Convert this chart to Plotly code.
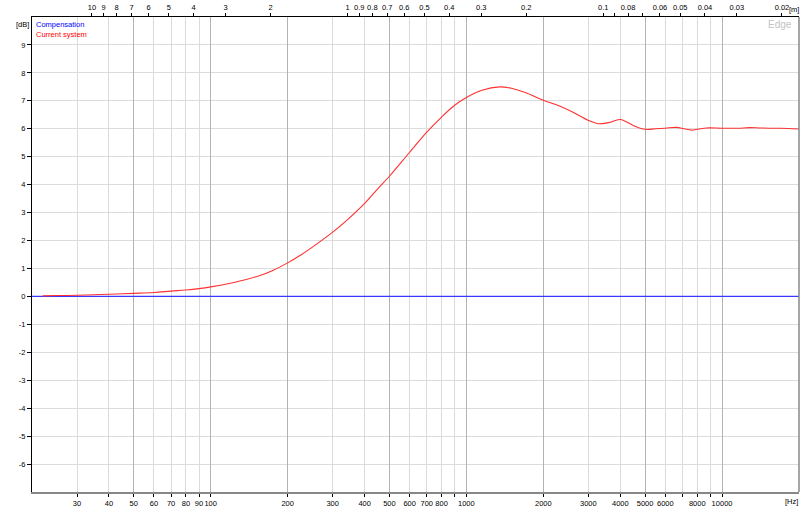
import math
import plotly.graph_objects as go

# ---- data ----
freq = [22, 25, 30, 35, 40, 50, 60, 70, 80, 90, 100, 118, 130, 155, 175, 200, 225, 253,
        300, 344, 400, 450, 500, 600, 700, 800, 900, 1000, 1150, 1349, 1500, 1700, 2000,
        2300, 2600, 3000, 3272, 3600, 4000, 4488, 5000, 5500, 6000, 6630, 7100, 7600,
        8100, 8700, 10000, 11500, 12800, 14000, 15300, 17000, 20000]
current_db = [0.02, 0.03, 0.04, 0.06, 0.08, 0.11, 0.14, 0.19, 0.23, 0.28, 0.34, 0.46, 0.55,
              0.74, 0.93, 1.2, 1.48, 1.8, 2.3, 2.76, 3.33, 3.85, 4.3, 5.16, 5.88, 6.42, 6.84,
              7.12, 7.38, 7.5, 7.45, 7.3, 7.02, 6.82, 6.6, 6.3, 6.18, 6.22, 6.33, 6.12, 5.98,
              6.0, 6.02, 6.05, 6.0, 5.95, 5.99, 6.03, 6.02, 6.02, 6.04, 6.03, 6.02, 6.02, 5.99]
comp_freq = [20, 20000]
comp_db = [0, 0]

freq_ticks = [30, 40, 50, 60, 70, 80, 90, 100, 200, 300, 400, 500, 600, 700, 800, 900,
              1000, 2000, 3000, 4000, 5000, 6000, 7000, 8000, 9000, 10000]
freq_labels = ["30", "40", "50", "60", "70", "80", "90", "100", "200", "300", "400", "500",
               "600", "700", "800", "", "1000", "2000", "3000", "4000", "5000", "6000", "",
               "8000", "", "10000"]
major_grid = [50, 100, 200, 500, 1000, 2000, 5000, 10000]

wavelengths = [10, 9, 8, 7, 6, 5, 4, 3, 2, 1, 0.9, 0.8, 0.7, 0.6, 0.5, 0.4, 0.3, 0.2,
               0.1, 0.09, 0.08, 0.07, 0.06, 0.05, 0.04, 0.03, 0.02]
wl_labels = ["10", "9", "8", "7", "6", "5", "4", "3", "2", "1", "0.9", "0.8", "0.7", "0.6",
             "0.5", "0.4", "0.3", "0.2", "0.1", "", "0.08", "", "0.06", "0.05", "0.04",
             "0.03", "0.02"]
sound_speed = 343.0

db_ticks = list(range(-6, 10))

FONT = "Liberation Sans, Arial, sans-serif"
FS = 7.5
W, H = 800, 508
L, R, T, B = 32, 1, 17, 16
xr = [math.log10(20), math.log10(20000)]

fig = go.Figure()
fig.add_trace(go.Scatter(x=comp_freq, y=comp_db, mode="lines",
                         line=dict(color="#3838ff", width=1.3), name="Compensation"))
fig.add_trace(go.Scatter(x=freq, y=current_db, mode="lines", line_shape="spline",
                         line=dict(color="#ff3030", width=1.1), name="Current system"))

tf = dict(size=FS, family=FONT, color="#000")
fig.update_layout(
    width=W, height=H,
    margin=dict(l=L, r=R, t=T, b=B, autoexpand=False),
    paper_bgcolor="white", plot_bgcolor="white",
    showlegend=False,
    font=dict(family=FONT, size=FS, color="#000"),
    xaxis=dict(type="log", range=xr, tickmode="array", tickvals=freq_ticks,
               ticktext=freq_labels, ticks="outside", ticklen=3, tickcolor="#000",
               tickangle=0, automargin=False,
               showline=True, linecolor="#888", linewidth=2,
               showgrid=True, gridcolor="#dadada", gridwidth=1, zeroline=False,
               tickfont=tf),
    xaxis2=dict(type="log", range=xr, overlaying="x", side="top", anchor="y",
                tickmode="array", tickvals=[sound_speed / w for w in wavelengths],
                ticktext=wl_labels, ticks="outside", ticklen=3, tickcolor="#000",
                tickangle=0, automargin=False,
                showline=True, linecolor="#000", linewidth=1, showgrid=False,
                zeroline=False, tickfont=tf),
    xaxis3=dict(type="log", range=xr, overlaying="x", anchor="y", tickmode="array",
                tickvals=major_grid, showticklabels=False, ticks="", automargin=False,
                showgrid=True, gridcolor="#b2b2b2", gridwidth=1.3, showline=False,
                zeroline=False),
    yaxis=dict(range=[-7, 10], tickmode="array", tickvals=db_ticks,
               ticktext=[str(v) for v in db_ticks], ticks="outside", ticklen=4,
               tickcolor="#000", automargin=False,
               showline=True, linecolor="#000", linewidth=1,
               showgrid=True, gridcolor="#dcdcdc", gridwidth=1, zeroline=False,
               tickfont=tf),
)
# invisible traces to activate top and grid axes
fig.add_trace(go.Scatter(x=comp_freq, y=comp_db, xaxis="x2", mode="lines",
                         line=dict(width=0), hoverinfo="skip", showlegend=False))
fig.add_trace(go.Scatter(x=comp_freq, y=comp_db, xaxis="x3", mode="lines",
                         line=dict(width=0), hoverinfo="skip", showlegend=False))

# right frame line
fig.add_shape(type="line", xref="paper", yref="paper", x0=1, x1=1, y0=0, y1=1,
              line=dict(color="#888", width=1.5))

pw, ph = W - L - R, H - T - B
def px(x):
    return (x - L) / pw
def py(y):
    return (H - B - y) / ph

fig.add_annotation(text="[dB]", xref="paper", yref="paper", x=px(30.5), y=py(24),
                   xanchor="right", yanchor="middle", showarrow=False,
                   font=dict(size=FS, color="#000"))
fig.add_annotation(text="Compensation", xref="paper", yref="paper", x=px(33.5), y=py(24),
                   xanchor="left", yanchor="middle", showarrow=False,
                   font=dict(size=FS, color="#0000ff"))
fig.add_annotation(text="Current system", xref="paper", yref="paper", x=px(33.5), y=py(34.5),
                   xanchor="left", yanchor="middle", showarrow=False,
                   font=dict(size=FS, color="#ff0000"))
fig.add_annotation(text="Edge", xref="paper", yref="paper", x=px(794), y=py(25),
                   xanchor="right", yanchor="middle", showarrow=False,
                   font=dict(size=10, color="#c4c4c4"))
fig.add_annotation(text="[Hz]", xref="paper", yref="paper", x=px(800), y=py(501.5),
                   xanchor="right", yanchor="middle", showarrow=False,
                   font=dict(size=FS, color="#000"))
fig.add_annotation(text="[m]", xref="paper", yref="paper", x=px(800.5), y=py(9.5),
                   xanchor="right", yanchor="middle", showarrow=False,
                   font=dict(size=FS, color="#000"))

fig.write_html("out.html", config={"displayModeBar": False},
               post_script="document.body.style.margin='0';document.body.style.overflow='hidden';")
